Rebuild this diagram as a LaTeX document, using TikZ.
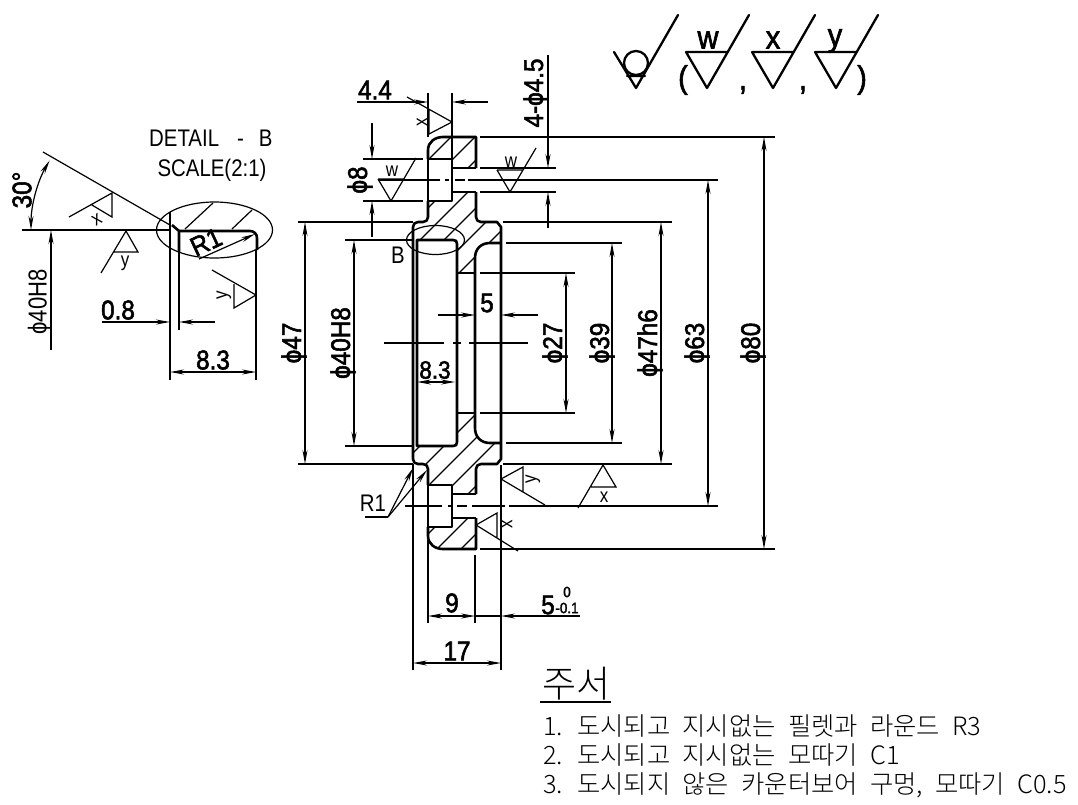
\documentclass[tikz,border=0pt]{standalone}
\usepackage{fontspec}
\setmainfont{Liberation Sans}
\newfontfamily\cadfont[FakeStretch=0.85]{Liberation Sans}
\newfontfamily\dimfont[FakeStretch=0.9,FakeBold=2]{Liberation Sans}
\newfontfamily\krfont[WordSpace=2.2]{Noto Sans CJK KR Light}
\usetikzlibrary{arrows.meta}
\tikzset{
    >={Stealth[length=14pt,width=5pt]},
    outline/.style={line width=2.6pt, line join=round},
    thinline/.style={line width=1.2pt},
    symbolline/.style={line width=2.3pt, line cap=round, line join=round},
    dimtext/.style={font=\dimfont\fontsize{27}{29}\selectfont, inner sep=0pt},
    plaintext/.style={font=\cadfont\fontsize{24}{26}\selectfont, inner sep=0pt},
    weldtext/.style={font=\cadfont\fontsize{20}{22}\selectfont, inner sep=0pt},
    symboltext/.style={font=\dimfont\fontsize{32}{34}\selectfont, inner sep=0pt},
    tolertext/.style={font=\dimfont\fontsize{15}{16}\selectfont, inner sep=0pt},
    noteline/.style={font=\krfont\fontsize{25.3}{28}\selectfont, inner sep=0pt, anchor=west},
}

\begin{document}
\begin{tikzpicture}[x=1pt, y=-1pt]
    \useasboundingbox (0,0) rectangle (1078,804);

    % Hatching of the upper half
    \begin{scope}
        \clip (428,159) -- (428,150) .. controls (428,142) and (435,137) .. (443,137) -- (476,137) -- (476,168) -- (452,168) -- (452,159) -- cycle
              (428,201) -- (452,201) -- (452,192) -- (476,192) -- (476,217) .. controls (476,220) and (478,222) .. (481,222) -- (497,222) -- (501,227) -- (501,243) -- (490,243) .. controls (481,243) and (475,249) .. (475,258) -- (475,273) -- (457,273) -- (457,244) .. controls (457,241) and (456,240) .. (453,240) -- (413,240) -- (413,227) .. controls (413,224) and (415,222) .. (418,222) -- (423,222) .. controls (426,222) and (428,220) .. (428,217) -- cycle;
        \foreach \c in {588,612,...,732}
            \draw[thinline] (400,\c-400) -- (520,\c-520);
    \end{scope}

    % Hatching of the lower half
    \begin{scope}
        \clip (428,527) -- (428,536) .. controls (428,544) and (435,549) .. (443,549) -- (476,549) -- (476,518) -- (452,518) -- (452,527) -- cycle
              (428,485) -- (452,485) -- (452,494) -- (476,494) -- (476,469) .. controls (476,466) and (478,464) .. (481,464) -- (497,464) -- (501,459) -- (501,443) -- (490,443) .. controls (481,443) and (475,437) .. (475,428) -- (475,413) -- (457,413) -- (457,442) .. controls (457,445) and (456,446) .. (453,446) -- (413,446) -- (413,459) .. controls (413,462) and (415,464) .. (418,464) -- (423,464) .. controls (426,464) and (428,466) .. (428,469) -- cycle;
        \foreach \c in {866,890,...,1010}
            \draw[thinline] (400,\c-400) -- (520,\c-520);
    \end{scope}

    % Section outline
    \draw[outline] (428,159) -- (428,150) .. controls (428,142) and (435,137) .. (443,137) -- (476,137) -- (476,168);
    \draw[outline] (476,192) -- (476,217) .. controls (476,220) and (478,222) .. (481,222) -- (497,222) -- (501,227) -- (501,459) -- (497,464) -- (481,464) .. controls (478,464) and (476,466) .. (476,469) -- (476,494);
    \draw[outline] (476,518) -- (476,549) -- (443,549) .. controls (435,549) and (428,544) .. (428,536) -- (428,527);
    \draw[outline] (428,201) -- (428,217) .. controls (428,220) and (426,222) .. (423,222) -- (418,222) .. controls (415,222) and (413,224) .. (413,227) -- (413,459) .. controls (413,462) and (415,464) .. (418,464) -- (423,464) .. controls (426,464) and (428,466) .. (428,469) -- (428,485);
    \draw[outline] (417,446) -- (417,240) -- (453,240) .. controls (456,240) and (457,241) .. (457,244) -- (457,442) .. controls (457,445) and (456,446) .. (453,446) -- cycle;
    \draw[outline] (501,243) -- (490,243) .. controls (481,243) and (475,249) .. (475,258) -- (475,428) .. controls (475,437) and (481,443) .. (490,443) -- (501,443);
    \draw[outline] (457,273) -- (475,273) (457,413) -- (475,413);

    % Counterbored holes
    \foreach \yc in {180,506} {
        \draw[outline] (428,\yc-21) rectangle (452,\yc+21);
        \draw[outline] (452,\yc-12) -- (476,\yc-12) (452,\yc+12) -- (476,\yc+12);
    }

    % Center lines
    \foreach \a/\b in {384/444, 453/461, 469/528}
        \draw[thinline] (\a,343) -- (\b,343);
    \foreach \a/\b in {378/440, 445/449, 455/465, 468/718}
        \draw[thinline] (\a,180) -- (\b,180);
    \foreach \a/\b in {405/442, 448/453, 457/467, 472/505, 509/718}
        \draw[thinline] (\a,506) -- (\b,506);

    % Extension lines
    \draw[thinline] (480,137) -- (775,137) (480,549) -- (775,549);
    \draw[thinline] (298,222) -- (413,222) (298,464) -- (413,464);
    \draw[thinline] (345,240) -- (413,240) (345,446) -- (413,446);
    \draw[thinline] (503,222) -- (672,222) (503,464) -- (672,464);
    \draw[thinline] (506,243) -- (622,243) (506,443) -- (622,443);
    \draw[thinline] (480,273) -- (575,273) (480,413) -- (575,413);
    \draw[thinline] (480,168) -- (556,168) (480,192) -- (556,192);
    \draw[thinline] (363,159) -- (423,159) (363,201) -- (423,201);
    \draw[thinline] (428,93) -- (428,137) (452,93) -- (452,159);
    \draw[thinline] (413,464) -- (413,670) (501,465) -- (501,670);
    \draw[thinline] (428,540) -- (428,623) (475,555) -- (475,623);

    % Vertical dimensions
    \foreach \xd/\ya/\yb in {764/137/549, 708/180/506, 661/222/464, 612/243/443, 566/273/413, 305/222/464, 354/240/446}
        \draw[thinline, <->] (\xd,\ya) -- (\xd,\yb);
    \node[dimtext, rotate=90] (dimA) at (753,343) {ϕ80};
    \node[dimtext, rotate=90] (dimB) at (697,343) {ϕ63};
    \node[dimtext, rotate=90] (dimC) at (650,343) {ϕ47h6};
    \node[dimtext, rotate=90] (dimD) at (602,343) {ϕ39};
    \node[dimtext, rotate=90] (dimE) at (555,343) {ϕ27};
    \node[dimtext, rotate=90] (dimF) at (294,343) {ϕ47};
    \node[dimtext, rotate=90] (dimG) at (343,343) {ϕ40H8};

    % Dimension of the holes
    \draw[thinline, ->] (548,55) -- (548,168);
    \draw[thinline, ->] (548,228) -- (548,192);
    \node[dimtext, rotate=90] (dimH) at (536,93) {4-ϕ4.5};
    \draw[thinline, ->] (372,123) -- (372,159);
    \draw[thinline, ->] (372,237) -- (372,201);
    \node[dimtext, rotate=90] (dimI) at (360,180) {ϕ8};

    % Horizontal dimensions
    \draw[thinline, ->] (357,102) -- (428,102);
    \draw[thinline, ->] (488,102) -- (452,102);
    \node[dimtext] (dimJ) at (375,90) {4.4};
    \draw[thinline, ->] (438,315) -- (475,315);
    \draw[thinline, ->] (538,315) -- (501,315);
    \node[dimtext] (dimK) at (487,303) {5};
    \draw[thinline, <->] (417,382) -- (455,382);
    \node[dimtext, font=\dimfont\fontsize{25}{27}\selectfont] (dimL) at (435,370) {8.3};
    \draw[thinline, <->] (428,616) -- (475,616);
    \draw[thinline, ->] (580,616) -- (501,616);
    \draw[thinline] (475,616) -- (501,616);
    \node[dimtext] (dimM) at (452,603) {9};
    \node[dimtext] (dimN) at (548,605) {5};
    \node[tolertext] (dimO) at (567,592) {0};
    \node[tolertext] (dimP) at (567,608) {-0.1};
    \draw[thinline, <->] (413,663) -- (501,663);
    \node[dimtext] (dimQ) at (457,651) {17};

    % Fillet leaders
    \node[plaintext] (filletR) at (373,503) {R1};
    \coordinate (filletend) at (388,517);
    \draw[thinline] (365,517) -- (filletend);
    \draw[thinline, ->] (filletend) -- (413,468);
    \draw[thinline, ->] (filletend) -- (427,470);

    % Detail mark
    \draw[thinline] (435.5,240) ellipse [x radius=29pt, y radius=14.5pt];
    \node[plaintext] (markB) at (398,255) {B};

    % Weld marks around the section
    \draw[thinline] (407,97) -- (452,122) -- (429,134) -- (429,109);
    \node[weldtext, rotate=90] (weldA) at (422,122) {x};
    \draw[thinline] (378,179) -- (403,179) (378,179) -- (391,201) -- (416,158);
    \node[weldtext] (weldB) at (392,171) {w};
    \draw[thinline] (497,170) -- (523,170) (497,170) -- (510,192) -- (536,148);
    \node[weldtext] (weldC) at (511,162) {w};
    \draw[thinline] (545,505) -- (501,479) -- (523,467) -- (523,492);
    \node[weldtext, rotate=90] (weldD) at (533,479) {y};
    \draw[thinline] (518,551) -- (476,525) -- (497,513) -- (497,537);
    \node[weldtext, rotate=90] (weldE) at (507,524) {x};
    \draw[thinline] (578,508) -- (603,465) -- (616,487) -- (591,487);
    \node[weldtext] (weldF) at (604,497) {x};

    % Detail B
    \node[plaintext, anchor=west] (detailA) at (149,138) {DETAIL\hspace{18pt}-\hspace{15pt}B};
    \node[plaintext] (detailB) at (212,170) {SCALE(2:1)};
    \draw[thinline] (214.5,230) ellipse [x radius=58pt, y radius=28pt];
    \draw[outline] (170,212) -- (170,250);
    \draw[outline] (172,225) -- (179,231) -- (179,252);
    \draw[outline] (179,231) -- (250,231) .. controls (254,231) and (257,234) .. (257,238) -- (257,250);
    \draw[thinline] (185,229) -- (213,203) (232,229) -- (252,210);
    \draw[thinline] (22,230) -- (170,230);
    \draw[thinline] (43,152) -- (170,225);
    \draw[thinline, <->] (31,230) .. controls (31,205.6) and (37.4,181.6) .. (49.6,160.5);
    \node[dimtext, rotate=90] (dimR) at (22,190) {30°};
    \draw[thinline] (69,217) -- (112,193) -- (112,217) -- (92,205);
    \node[weldtext, rotate=30] (weldG) at (97,220) {x};
    \draw[thinline] (101,273) -- (126,231) -- (138,252) -- (113,252);
    \node[weldtext] (weldH) at (125,263) {y};
    \draw[thinline, ->] (51,350) -- (51,230);
    \node[plaintext, font=\cadfont\fontsize{26}{28}\selectfont, rotate=90] (dimS) at (40,302) {ϕ40H8};
    \draw[thinline, ->] (199,259) -- (255,234);
    \node[dimtext, rotate=25] (dimT) at (206,242) {R1};
    \draw[thinline] (212,270) -- (256,295) -- (234,308) -- (234,284);
    \node[weldtext, rotate=90] (weldI) at (224,295) {y};
    \draw[thinline] (170,250) -- (170,380) (179,252) -- (179,330) (256,250) -- (256,380);
    \draw[thinline, ->] (102,322) -- (170,322);
    \draw[thinline, ->] (215,322) -- (179,322);
    \node[dimtext] (dimU) at (118,310) {0.8};
    \draw[thinline, <->] (170,372) -- (256,372);
    \node[dimtext] (dimV) at (213,360) {8.3};

    % Weld symbols on top
    \draw[symbolline] (614,52) -- (636,88) -- (678,15) (627,76) -- (645,76);
    \draw[symbolline] (636,63) circle (12pt);
    \foreach \xs in {686,752,815}
        \draw[symbolline] (\xs,52) -- ({\xs+41},52) (\xs,52) -- ({\xs+21},88) -- ({\xs+63},15);
    \node[symboltext] (symW) at (708,40) {w};
    \node[symboltext] (symX) at (773,40) {x};
    \node[symboltext] (symY) at (835,41) {y};
    \node[symboltext] (symL) at (683,80) {(};
    \node[symboltext] (symR) at (862,80) {)};
    \node[symboltext] (symA) at (743,90) {,};
    \node[symboltext] (symB) at (803,90) {,};

    % Notes
    \node[noteline, font=\krfont\fontsize{37}{40}\selectfont] (notehead) at (542,684) {주서};
    \draw[thinline] (540,702) -- (611,702);
    \node[noteline] (noteA) at (543,726) {1. 도시되고 지시없는 필렛과 라운드 R3};
    \node[noteline] (noteB) at (543,755) {2. 도시되고 지시없는 모따기 C1};
    \node[noteline] (noteC) at (543,785) {3. 도시되지 않은 카운터보어 구멍, 모따기 C0.5};

\end{tikzpicture}
\end{document}
